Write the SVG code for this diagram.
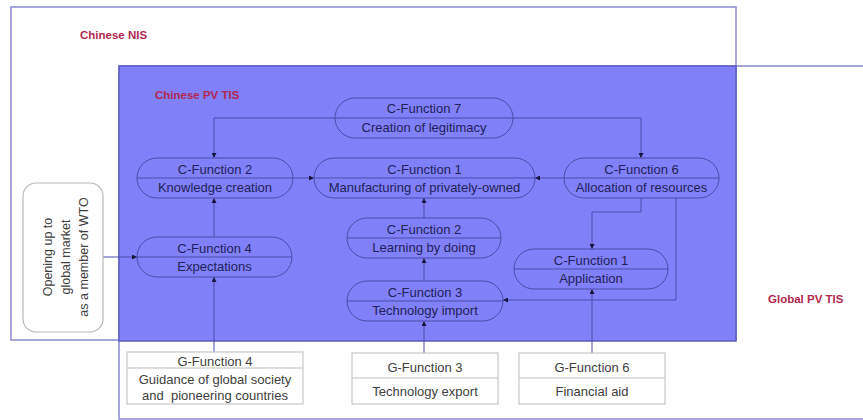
<svg xmlns="http://www.w3.org/2000/svg" width="863" height="420" viewBox="0 0 863 420">
  <defs>
    <marker id="arr" viewBox="0 0 5 5" refX="5" refY="2.5" markerWidth="5" markerHeight="5" markerUnits="userSpaceOnUse" orient="auto">
      <path d="M0,0 L5,2.5 L0,5 Z" fill="#161640"/>
    </marker>
    <style>
      .sys { fill: none; stroke: #8a8ad0; stroke-width: 1.5; }
      .tis { fill: #8080f8; stroke: #5c5cc0; stroke-width: 1.5; }
      .lbl { font-family: "Liberation Sans", Arial, sans-serif; font-size: 11.5px; font-weight: bold; fill: #b3274f; }
      .node path { fill: none; stroke: #4c4cac; stroke-width: 1; }
      .node text { font-family: "Liberation Sans", Arial, sans-serif; font-size: 13px; fill: #22225a; text-anchor: middle; }
      .gbox rect, .gbox line { fill: #ffffff; stroke: #bdbdbd; stroke-width: 1; }
      .gbox text { font-family: "Liberation Sans", Arial, sans-serif; font-size: 13px; fill: #404040; text-anchor: middle; white-space: pre; }
      .ext rect { fill: #ffffff; stroke: #b8b8b8; stroke-width: 1.2; }
      .ext text { font-family: "Liberation Sans", Arial, sans-serif; font-size: 12.5px; fill: #404040; text-anchor: middle; }
      .conn path { fill: none; stroke: #4c4cac; stroke-width: 1; marker-end: url(#arr); }
    </style>
  </defs>

  <!-- system boundaries -->
  <g id="global-pv-tis">
    <rect class="sys" x="119" y="66" width="760" height="353"/>
    <text class="lbl" x="768" y="303">Global PV TIS</text>
  </g>
  <g id="chinese-nis">
    <rect class="sys" x="11" y="7" width="725" height="333"/>
    <text class="lbl" x="80" y="39">Chinese NIS</text>
  </g>
  <g id="chinese-pv-tis">
    <rect class="tis" x="119" y="66" width="617" height="275"/>
    <text class="lbl" x="155" y="99">Chinese PV TIS</text>
  </g>

  <!-- connectors -->
  <g id="connectors" class="conn">
    <path d="M335,118 H214 V158"/>
    <path d="M513,118 H641 V158"/>
    <path d="M293,178 H314"/>
    <path d="M564,178 H535"/>
    <path d="M214,237 V198"/>
    <path d="M424,218 V198"/>
    <path d="M424,281 V258"/>
    <path d="M641,198 V212 H592 V249"/>
    <path d="M676,198 V300 H503"/>
    <path d="M103,257 H137"/>
    <path d="M214,352 V277"/>
    <path d="M424,353 V321"/>
    <path d="M592,353 V289"/>
  </g>

  <!-- C-functions inside the Chinese PV TIS -->
  <g id="c7" class="node">
    <path d="M355,98 H493 A20,20 0 0 1 493,138 H355 A20,20 0 0 1 355,98 Z M335,118 H513"/>
    <text x="424" y="113">C-Function 7</text>
    <text x="424" y="132">Creation of legitimacy</text>
  </g>
  <g id="c2-knowledge" class="node">
    <path d="M157,158 H273 A20,20 0 0 1 273,198 H157 A20,20 0 0 1 157,158 Z M137,178 H293"/>
    <text x="215" y="174">C-Function 2</text>
    <text x="215" y="192">Knowledge creation</text>
  </g>
  <g id="c1-manufacturing" class="node">
    <path d="M334,158 H515 A20,20 0 0 1 515,198 H334 A20,20 0 0 1 334,158 Z M314,178 H535"/>
    <text x="424.5" y="174">C-Function 1</text>
    <text x="424.5" y="192">Manufacturing of privately-owned</text>
  </g>
  <g id="c6" class="node">
    <path d="M584,158 H699 A20,20 0 0 1 699,198 H584 A20,20 0 0 1 584,158 Z M564,178 H719"/>
    <text x="641.5" y="174">C-Function 6</text>
    <text x="641.5" y="192">Allocation of resources</text>
  </g>
  <g id="c4" class="node">
    <path d="M157,237 H272 A20,20 0 0 1 272,277 H157 A20,20 0 0 1 157,237 Z M137,257 H292"/>
    <text x="214.5" y="253">C-Function 4</text>
    <text x="214.5" y="271">Expectations</text>
  </g>
  <g id="c2-learning" class="node">
    <path d="M367,218 H481 A20,20 0 0 1 481,258 H367 A20,20 0 0 1 367,218 Z M347,238 H501"/>
    <text x="424" y="234">C-Function 2</text>
    <text x="424" y="252">Learning by doing</text>
  </g>
  <g id="c3" class="node">
    <path d="M367,281 H483 A20,20 0 0 1 483,321 H367 A20,20 0 0 1 367,281 Z M347,301 H503"/>
    <text x="425" y="297">C-Function 3</text>
    <text x="425" y="315">Technology import</text>
  </g>
  <g id="c1-application" class="node">
    <path d="M534,249 H648 A20,20 0 0 1 648,289 H534 A20,20 0 0 1 534,249 Z M514,269 H668"/>
    <text x="591" y="265">C-Function 1</text>
    <text x="591" y="283">Application</text>
  </g>

  <!-- external influence on the Chinese NIS -->
  <g id="opening" class="ext">
    <rect x="23" y="183" width="80" height="149" rx="13" ry="13"/>
    <text transform="translate(51.5,257) rotate(-90)">Opening up to</text>
    <text transform="translate(69.5,257) rotate(-90)">global market</text>
    <text transform="translate(87.5,257) rotate(-90)">as a member of WTO</text>
  </g>

  <!-- G-functions of the global PV TIS -->
  <g id="g4" class="gbox">
    <rect x="127" y="352" width="176" height="52"/>
    <line x1="127" y1="368" x2="303" y2="368"/>
    <text x="215" y="366">G-Function 4</text>
    <text x="215" y="384">Guidance of global society</text>
    <text x="215" y="400" xml:space="preserve">and  pioneering countries</text>
  </g>
  <g id="g3" class="gbox">
    <rect x="352" y="353" width="146" height="51"/>
    <line x1="352" y1="378" x2="498" y2="378"/>
    <text x="425" y="372">G-Function 3</text>
    <text x="425" y="396">Technology export</text>
  </g>
  <g id="g6" class="gbox">
    <rect x="519" y="353" width="146" height="51"/>
    <line x1="519" y1="378" x2="665" y2="378"/>
    <text x="592" y="372">G-Function 6</text>
    <text x="592" y="396">Financial aid</text>
  </g>
</svg>
